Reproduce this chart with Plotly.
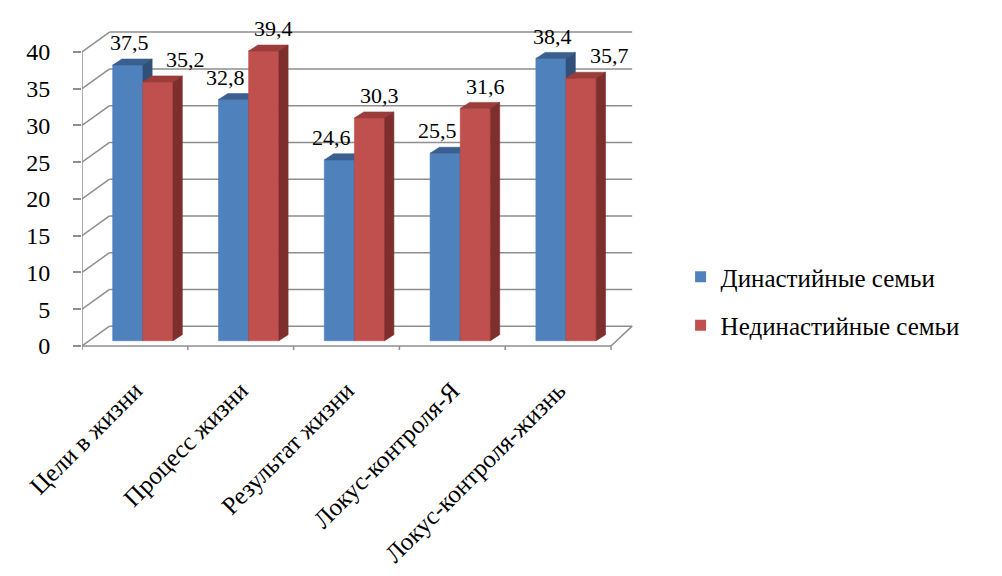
import plotly.graph_objects as go

# ---- data -------------------------------------------------------------
categories = [
    "Цели в жизни",
    "Процесс жизни",
    "Результат жизни",
    "Локус-контроля-Я",
    "Локус-контроля-жизнь",
]
series_names = ["Династийные семьи", "Нединастийные семьи"]
dynastic = [37.5, 32.8, 24.6, 25.5, 38.4]
non_dynastic = [35.2, 39.4, 30.3, 31.6, 35.7]
y_ticks = [0, 5, 10, 15, 20, 25, 30, 35, 40]

# ---- styling / pseudo-3D geometry (in axis units) ---------------------
FONT = "Liberation Serif"
GRID = "#8E8E8E"
FRONT = ["#4F81BD", "#C0504D"]
TOP = ["#3B6090", "#9B3D3B"]
SIDE = ["#30507A", "#7E2E2C"]

N = len(categories)
WALL_DX_L, WALL_DX_R = 0.26, 0.20   # depth of the walls (x, perspective)
WALL_DY = 2.7                        # depth of the walls (y)
BAR_X0 = 0.29                        # first bar offset inside a category
BAR_W = 0.285                        # bar width
BAR_LIFT = 0.72                      # bars sit slightly behind the front edge
BAR_DX, BAR_DY = 0.088, 0.82         # depth of a single bar
LABEL_GAP = 0.25                     # label baseline above the bar top


def back_x(x):
    return x + WALL_DX_L + (WALL_DX_R - WALL_DX_L) * x / N


fig = go.Figure()


def add_lines(segments, color=GRID, width=1.5):
    xs, ys = [], []
    for (x0, y0), (x1, y1) in segments:
        xs += [x0, x1, None]
        ys += [y0, y1, None]
    fig.add_trace(go.Scatter(
        x=xs, y=ys, mode="lines", line=dict(color=color, width=width),
        hoverinfo="skip", showlegend=False, cliponaxis=False))


# walls and floor
top = max(y_ticks)
segs = []
for v in y_ticks:
    segs.append(((back_x(0), v + WALL_DY), (back_x(N), v + WALL_DY)))  # back wall
    segs.append(((0, v), (back_x(0), v + WALL_DY)))                    # side wall
segs.append(((N, 0), (back_x(N), WALL_DY)))                            # floor edge
add_lines(segs)

# front axes with category boundary ticks
axes = [((0, 0), (N, 0)), ((0, 0), (0, top))]
axes += [((k, 0), (k, -0.9)) for k in range(N + 1)]
add_lines(axes)


def polygon(pts, color):
    xs = [p[0] for p in pts] + [pts[0][0]]
    ys = [p[1] for p in pts] + [pts[0][1]]
    fig.add_trace(go.Scatter(
        x=xs, y=ys, mode="lines", fill="toself", fillcolor=color,
        line=dict(color=color, width=0.6), hoverinfo="skip",
        showlegend=False, cliponaxis=False))


values = [dynastic, non_dynastic]
for i in range(N):
    pair = [values[0][i], values[1][i]]
    for s in range(2):
        v = pair[s]
        x0 = i + BAR_X0 + s * BAR_W
        x1 = x0 + BAR_W
        y0 = BAR_LIFT
        y1 = BAR_LIFT + v
        polygon([(x0, y0), (x1, y0), (x1, y1), (x0, y1)], FRONT[s])
        polygon([(x0, y1), (x1, y1), (x1 + BAR_DX, y1 + BAR_DY),
                 (x0 + BAR_DX, y1 + BAR_DY)], TOP[s])
        polygon([(x1, y0), (x1 + BAR_DX, y0 + BAR_DY),
                 (x1 + BAR_DX, y1 + BAR_DY), (x1, y1)], SIDE[s])

        # value label, pushed away from the neighbouring bar when lower
        shorter = v < pair[1 - s]
        if s == 0:
            push = -0.12 if shorter else -0.03
        else:
            push = 0.22 if shorter else 0.05
        fig.add_annotation(
            x=(x0 + x1) / 2 + BAR_DX / 2 + push, y=y1 + BAR_DY + LABEL_GAP,
            text=f"{v:.1f}".replace(".", ","),
            showarrow=False, xanchor="center", yanchor="bottom",
            font=dict(family=FONT, size=22, color="black"))

# legend entries
for s in range(2):
    fig.add_trace(go.Scatter(
        x=[None], y=[None], mode="markers", name=series_names[s],
        legendgroup=series_names[s],
        marker=dict(symbol="square", size=11, color=FRONT[s])))

fig.update_layout(
    template="none",
    width=1002, height=576,
    margin=dict(l=82, r=359, t=0, b=226),
    paper_bgcolor="white", plot_bgcolor="white",
    font=dict(family=FONT, size=22, color="black"),
    showlegend=True,
    legend=dict(
        x=1.067, y=0.14, xanchor="left", yanchor="middle",
        font=dict(family=FONT, size=25, color="black"),
        tracegroupgap=13, itemwidth=30, bgcolor="rgba(0,0,0,0)"),
    xaxis=dict(
        range=[0, 5.3025], showgrid=False, zeroline=False, showline=False,
        tickmode="array", tickvals=[i + 0.5 for i in range(N)],
        ticktext=categories, tickangle=-45, ticks="",
        tickfont=dict(family=FONT, size=25, color="black"),
        ticklabelstandoff=20),
    yaxis=dict(
        range=[-0.544, 47.07], showgrid=False, zeroline=False, showline=False,
        tickmode="array", tickvals=y_ticks, ticks="outside", ticklen=8,
        tickwidth=1.5, tickcolor=GRID, ticklabelstandoff=18,
        tickfont=dict(family=FONT, size=24, color="black")),
)

fig.write_html("out.html")
